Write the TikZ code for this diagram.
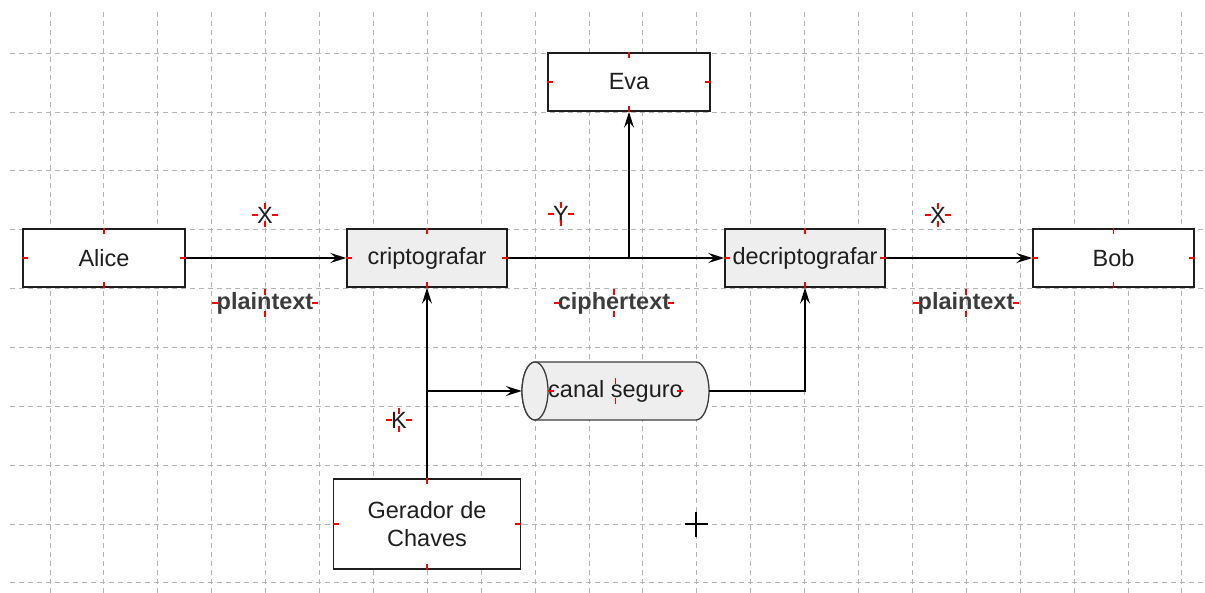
\documentclass[tikz,border=0pt]{standalone}
\usepackage{fontspec}
\setmainfont{Liberation Sans}
\usetikzlibrary{arrows.meta}

\definecolor{boxfill}{RGB}{238,238,238}
\definecolor{gridgray}{RGB}{180,180,180}
\definecolor{handlered}{RGB}{255,0,0}
\definecolor{inkgray}{RGB}{30,30,30}
\definecolor{taggray}{RGB}{60,60,60}

% red handles on the four sides of a node
\newcommand{\handles}[1]{%
	\draw[handle] (#1.north) -- ++(0,6);
	\draw[handle] (#1.south) -- ++(0,-6);
	\draw[handle] (#1.west) -- ++(6,0);
	\draw[handle] (#1.east) -- ++(-6,0);
}

\begin{document}
\begin{tikzpicture}[x=1pt,y=1pt,yscale=-1,xscale=1,
		font=\fontsize{23.5}{28}\selectfont,
		gridline/.style={gridgray, line width=1pt, dash pattern=on 5pt off 4pt},
		block/.style={draw=inkgray, line width=1.5pt, fill=white, text=inkgray, minimum width=161pt, minimum height=58pt, inner sep=0pt},
		graybox/.style={block, fill=boxfill},
		flow/.style={black, line width=1.4pt, -{Stealth[length=16pt, width=10pt, inset=6pt]}},
		handle/.style={handlered, line width=1.3pt},
		sigtag/.style={text=inkgray, inner xsep=5pt, inner ysep=4pt},
		nametag/.style={text=taggray, font=\fontsize{23.5}{28}\selectfont\bfseries, inner xsep=4pt, inner ysep=3pt}]
		\useasboundingbox (0,0) rectangle (1205,593);

		% Draw the dashed grid of the editor
		\foreach \gy in {0,...,9} {
			\draw[gridline] (10,{53.3+58.85*\gy}) -- (1205,{53.3+58.85*\gy});
		}
		\foreach \gx in {0,...,21} {
			\draw[gridline] ({50+53.9*\gx},12) -- ({50+53.9*\gx},593);
		}

		% The boxes of the parties
		\node[block, minimum width=162pt] (alice) at (104,258) {Alice};
		\node[block, minimum width=162pt] (eva) at (629,82) {Eva};
		\node[block] (bob) at (1113.5,258) {Bob};

		% The boxes of the operations, in grey
		\node[graybox, minimum width=160pt] (cripto) at (427,258) {criptografar};
		\node[graybox, minimum width=160pt] (decripto) at (805,258) {decriptografar};

		% The key generator
		\node[block, minimum width=187pt, minimum height=90pt, align=center] (gerador) at (427,524) {Gerador de\\Chaves};

		% The secure channel, a lying cylinder
		\node[minimum width=187pt, minimum height=58pt, inner sep=0pt] (canal) at (615.5,391) {};
		\draw[draw=taggray, line width=1.3pt, fill=boxfill] (535,362) -- (696,362)
			arc[start angle=-90, end angle=90, x radius=13, y radius=29] -- (535,420)
			arc[start angle=90, end angle=270, x radius=13, y radius=29] -- cycle;
		\draw[draw=taggray, line width=1.3pt, fill=boxfill] (535,391) ellipse[x radius=13, y radius=29];
		\node[text=inkgray, inner xsep=0pt, inner ysep=2pt] (canaltext) at (canal.center) {canal seguro};

		% Arrows along the message path
		\coordinate (tap) at (eva.south |- cripto.east);
		\draw[flow] (alice.east) -- (cripto.west);
		\draw[flow] (cripto.east) -- (decripto.west);
		\draw[flow] (tap) -- (eva.south);
		\draw[flow] (decripto.east) -- (bob.west);

		% Arrows along the key path
		\coordinate (keytap) at (gerador.north |- canal.west);
		\draw[flow] (gerador.north) -- (cripto.south);
		\draw[flow] (keytap) -- (canal.west);
		\draw[flow] (canal.east) -| (decripto.south);

		% The symbols above and below the arrows
		\node[sigtag] (xin) at (265,215) {X};
		\node[sigtag] (yc) at (561,214) {Y};
		\node[sigtag] (xout) at (938,215) {X};
		\node[sigtag] (kk) at (399,420) {K};
		\node[nametag] (ptin) at (265,303) {plaintext};
		\node[nametag] (ct) at (614,303) {ciphertext};
		\node[nametag] (ptout) at (966,303) {plaintext};

		% Red handles of the selected shapes
		\handles{alice}
		\handles{eva}
		\handles{bob}
		\handles{cripto}
		\handles{decripto}
		\handles{gerador}
		\handles{canaltext}
		\handles{xin}
		\handles{yc}
		\handles{xout}
		\handles{kk}
		\handles{ptin}
		\handles{ct}
		\handles{ptout}

		% The mouse cursor
		\draw[black, line width=1.3pt] (684.5,524) -- (707.5,524);
		\draw[black, line width=1.3pt] (696,512) -- (696,537);
	\end{tikzpicture}
\end{document}
